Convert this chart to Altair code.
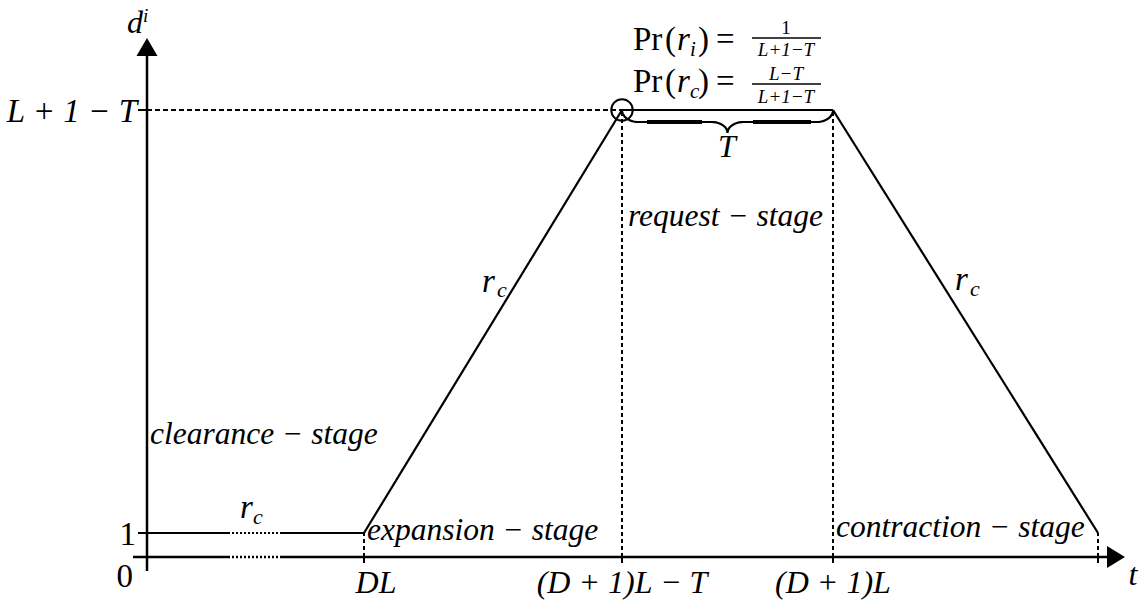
import altair as alt
import numpy as np
import pandas as pd

# ---- schematic values: t along the horizontal axis, d in level units ----
t_ticks = [217, 475, 686, 951]                    # DL, (D+1)L-T, (D+1)L, end of contraction
t_tick_labels = ["DL", "(D + 1)L − T", "(D + 1)L"]
levels = [0, 1, 18.625]                           # 0, 1, L+1-T
level_labels = ["0", "1", "L + 1 − T"]
path_t = [0, 217, 475, 686, 951]                  # trajectory of d^i over time
path_d = [1, 1, 18.625, 18.625, 1]
gap_t = [81, 135]                                 # elided stretch of the clearance stage

# ---- canvas / scale layout ----
W, H = 1145, 603
ORIGIN_X, ORIGIN_Y = 147, 557
PX_PER_D = 24
FONT = "Liberation Serif"

XS = alt.Scale(domain=[-ORIGIN_X, W - ORIGIN_X], nice=False, zero=False)
YS = alt.Scale(domain=[(ORIGIN_Y - H) / PX_PER_D, ORIGIN_Y / PX_PER_D], nice=False, zero=False)

DL, REQ, REQ_END, END = t_ticks
TOP = levels[2]


def pos(px, py):
    """canvas pixel -> (t, d) in chart units (for annotations)"""
    return px - ORIGIN_X, (ORIGIN_Y - py) / PX_PER_D


def segs(rows, width=2, dash=None):
    df = pd.DataFrame(rows, columns=["t", "d", "t2", "d2"])
    kw = dict(color="black", strokeWidth=width)
    if dash:
        kw["strokeDash"] = dash
    return alt.Chart(df).mark_rule(**kw).encode(
        x=alt.X("t:Q", scale=XS, axis=None), x2="t2:Q",
        y=alt.Y("d:Q", scale=YS, axis=None), y2="d2:Q",
    )


def texts(rows, size, style="normal", align="left"):
    df = pd.DataFrame(rows, columns=["label", "t", "d"])
    return alt.Chart(df).mark_text(
        font=FONT, fontSize=size, fontStyle=style, align=align,
        baseline="alphabetic", color="black",
    ).encode(
        x=alt.X("t:Q", scale=XS, axis=None),
        y=alt.Y("d:Q", scale=YS, axis=None),
        text="label:N",
    )


def label(s, px, py):
    t, d = pos(px, py)
    return (s, t, d)


layers = []

# ---- axes ----
y_tip = pos(0, 47)[1]
x_tip = pos(1116, 0)[0]
layers.append(segs([
    (pos(133, 0)[0], 0, gap_t[0], 0),
    (gap_t[1], 0, x_tip - 4, 0),
    (0, pos(0, 571)[1], 0, y_tip),
], width=2.5))
layers.append(segs([(gap_t[0], 0, gap_t[1], 0)], width=2.5, dash=[2, 2]))

# ticks on both axes
tick_half = 6 / PX_PER_D
layers.append(segs(
    [(t, -tick_half, t, tick_half * 0.3) for t in t_ticks]
    + [(-9, lv, 0, lv) for lv in levels[1:]],
    width=2,
))

# arrow heads
arrows = pd.DataFrame({"t": [0], "d": [y_tip]})
layers.append(alt.Chart(arrows).mark_point(
    shape="M0,-0.857L1,0.857L-1,0.857Z", size=441, filled=True, color="black", opacity=1,
).encode(x=alt.X("t:Q", scale=XS, axis=None), y=alt.Y("d:Q", scale=YS, axis=None)))
arrows_x = pd.DataFrame({"t": [x_tip], "d": [0]})
layers.append(alt.Chart(arrows_x).mark_point(
    shape="M0.818,0L-0.818,-1L-0.818,1Z", size=484, filled=True, color="black", opacity=1,
).encode(x=alt.X("t:Q", scale=XS, axis=None), y=alt.Y("d:Q", scale=YS, axis=None)))

# ---- trajectory ----
pts = list(zip(path_t, path_d))
traj = [(pts[0][0], pts[0][1], gap_t[0], pts[0][1]), (gap_t[1], pts[1][1], pts[1][0], pts[1][1])]
traj += [(pts[i][0], pts[i][1], pts[i + 1][0], pts[i + 1][1]) for i in range(1, len(pts) - 1)]
layers.append(segs(traj, width=2.2))
layers.append(segs([(gap_t[0], 1, gap_t[1], 1)], width=2.2, dash=[2, 2]))

# ---- guide lines ----
layers.append(segs([(0, TOP, REQ, TOP)], width=2, dash=[5, 3]))
layers.append(segs([
    (REQ, 0, REQ, TOP), (REQ_END, 0, REQ_END, TOP),
    (DL, 0, DL, 1), (END, 0, END, 1),
], width=2, dash=[4, 3]))

# ---- circle at the start of the request stage ----
circ = pd.DataFrame({"t": [REQ], "d": [TOP]})
layers.append(alt.Chart(circ).mark_point(
    shape="circle", size=460, filled=False, color="black", strokeWidth=2, opacity=1,
).encode(x=alt.X("t:Q", scale=XS, axis=None), y=alt.Y("d:Q", scale=YS, axis=None)))

# ---- curly brace under the request stage ----
half = (REQ_END - REQ) / 2
th = np.linspace(0, np.pi / 2, 12)
left_x = np.concatenate([16 * (1 - np.cos(th)), half - 16 + 16 * np.sin(th)])
left_y = np.concatenate([12 * np.sin(th), 12 + 11 * (1 - np.cos(th))])
bx = np.concatenate([left_x, (2 * half - left_x)[::-1]])
by = np.concatenate([left_y, left_y[::-1]])
brace = pd.DataFrame({"t": REQ + bx, "d": TOP - by / PX_PER_D, "o": np.arange(len(bx))})
layers.append(alt.Chart(brace).mark_line(color="black", strokeWidth=2.2).encode(
    x=alt.X("t:Q", scale=XS, axis=None), y=alt.Y("d:Q", scale=YS, axis=None), order="o:Q"))
bd = TOP - 12 / PX_PER_D
layers.append(segs([(REQ + 25, bd, REQ + 80, bd), (REQ_END - 80, bd, REQ_END - 22, bd)], width=4))

# ---- fraction bars ----
layers.append(segs([
    (pos(752, 0)[0], pos(0, 38)[1], pos(821, 0)[0], pos(0, 38)[1]),
    (pos(752, 0)[0], pos(0, 84)[1], pos(821, 0)[0], pos(0, 84)[1]),
], width=1.5))

# ---- text ----
# axis names
layers.append(texts([label("d", 135, 33)], 32, "italic", "center"))
layers.append(texts([label("i", 143, 22)], 19, "italic", "left"))
layers.append(texts([label("t", 1133, 585)], 32, "italic", "center"))

# level labels on the vertical axis
layers.append(texts([(level_labels[2], -10, TOP - 0.5)], 33, "italic", "right"))
layers.append(texts([(level_labels[1], -11, 1 - 0.5), (level_labels[0], -14, -1.25)], 33, "normal", "right"))

# time labels on the horizontal axis
layers.append(texts([
    (t_tick_labels[0], DL + 12, -1.5),
    (t_tick_labels[1], REQ, -1.5),
    (t_tick_labels[2], REQ_END, -1.5),
], 32, "italic", "center"))

# r_c on each sloped / flat part
layers.append(texts([label("r", 240, 518), label("r", 482, 292), label("r", 955, 290)], 33, "italic"))
layers.append(texts([label("c", 253, 524), label("c", 497, 297), label("c", 970, 296)], 22, "italic"))

# stage names
layers.append(texts([
    label("clearance − stage", 150, 444),
    label("expansion − stage", 367, 540),
    label("request − stage", 628, 226),
    label("contraction − stage", 836, 537),
], 31.5, "italic"))

# brace label
layers.append(texts([label("T", 727, 157)], 32, "italic", "center"))

# request-stage probabilities
layers.append(texts([label("Pr", 633, 50), label("Pr", 633, 92),
                     label("(", 665, 50), label("(", 665, 92),
                     label(")", 698, 50), label(")", 698, 92),
                     label("=", 716, 50), label("=", 716, 92)], 33, "normal"))
layers.append(texts([label("r", 677, 50), label("r", 677, 92)], 33, "italic"))
layers.append(texts([label("i", 690, 56), label("c", 690, 98)], 21, "italic"))
layers.append(texts([label("1", 786, 34)], 19, "normal", "center"))
layers.append(texts([label("L+1−T", 786, 56), label("L−T", 786, 80), label("L+1−T", 786, 103)],
                    19, "italic", "center"))

chart = alt.layer(*layers).properties(
    width=W, height=H, padding=0, autosize=alt.AutoSizeParams(type="none"),
).configure_view(stroke=None)

chart.save("out.html", embed_options={"renderer": "svg", "actions": False})
